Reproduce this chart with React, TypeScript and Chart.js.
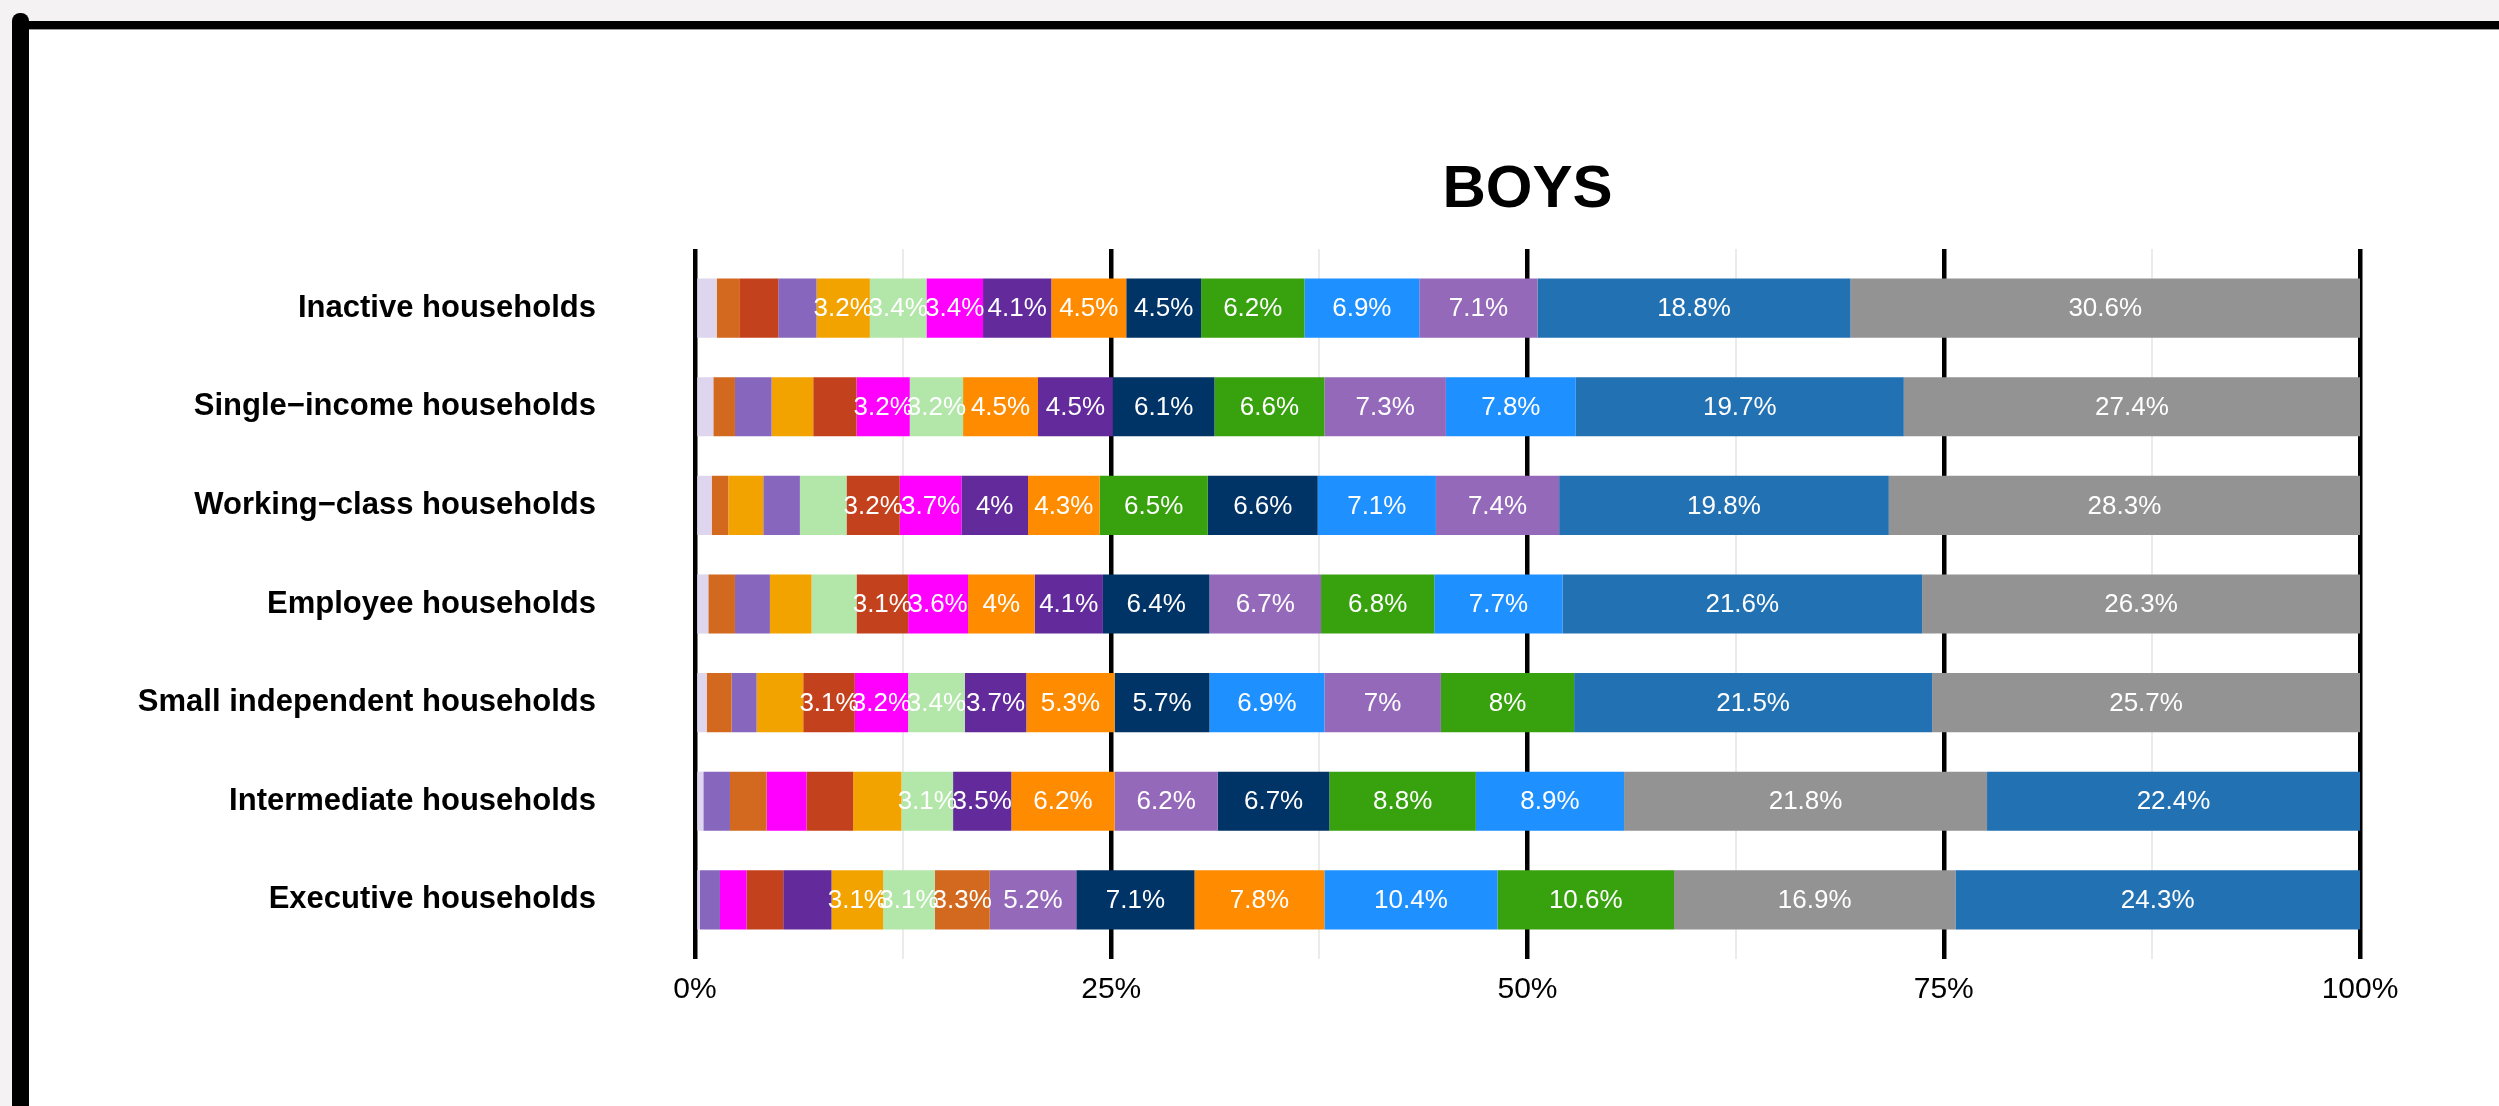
import React, { useEffect, useRef } from "react";
import { Chart, registerables } from "chart.js";

Chart.register(...registerables);

// Rows (top to bottom)
const households = [
  "Inactive households",
  "Single\u2212income households",
  "Working\u2212class households",
  "Employee households",
  "Small independent households",
  "Intermediate households",
  "Executive households",
];

// Colour of each group
const groupColors: Record<string, string> = {
  lav: "#DED5EE",
  choc: "#D2691E",
  red: "#C4411E",
  purpleA: "#8766BE",
  amber: "#F2A300",
  lgreen: "#B3E6A9",
  magenta: "#FF00FF",
  dpurple: "#622A9A",
  orange: "#FF8C00",
  navy: "#003366",
  green: "#38A10E",
  dblue: "#1E90FF",
  purpleB: "#9569BA",
  steel: "#2271B3",
  grey: "#939393",
};

// Per row: group order (ascending share, left to right) and shares (%)
const inactiveGroups = ["lav", "choc", "red", "purpleA", "amber", "lgreen", "magenta", "dpurple", "orange", "navy", "green", "dblue", "purpleB", "steel", "grey"];
const inactiveValues = [1.3, 1.4, 2.3, 2.3, 3.2, 3.4, 3.4, 4.1, 4.5, 4.5, 6.2, 6.9, 7.1, 18.8, 30.6];

const singleGroups = ["lav", "choc", "purpleA", "amber", "red", "magenta", "lgreen", "orange", "dpurple", "navy", "green", "purpleB", "dblue", "steel", "grey"];
const singleValues = [1.1, 1.3, 2.2, 2.5, 2.6, 3.2, 3.2, 4.5, 4.5, 6.1, 6.6, 7.3, 7.8, 19.7, 27.4];

const workingGroups = ["lav", "choc", "amber", "purpleA", "lgreen", "red", "magenta", "dpurple", "orange", "green", "navy", "dblue", "purpleB", "steel", "grey"];
const workingValues = [1.0, 1.0, 2.1, 2.2, 2.8, 3.2, 3.7, 4.0, 4.3, 6.5, 6.6, 7.1, 7.4, 19.8, 28.3];

const employeeGroups = ["lav", "choc", "purpleA", "amber", "lgreen", "red", "magenta", "orange", "dpurple", "navy", "purpleB", "green", "dblue", "steel", "grey"];
const employeeValues = [0.8, 1.6, 2.1, 2.5, 2.7, 3.1, 3.6, 4.0, 4.1, 6.4, 6.7, 6.8, 7.7, 21.6, 26.3];

const smallIndepGroups = ["lav", "choc", "purpleA", "amber", "red", "magenta", "lgreen", "dpurple", "orange", "navy", "dblue", "purpleB", "green", "steel", "grey"];
const smallIndepValues = [0.7, 1.5, 1.5, 2.8, 3.1, 3.2, 3.4, 3.7, 5.3, 5.7, 6.9, 7.0, 8.0, 21.5, 25.7];

const intermediateGroups = ["lav", "purpleA", "choc", "magenta", "red", "amber", "lgreen", "dpurple", "orange", "purpleB", "navy", "green", "dblue", "grey", "steel"];
const intermediateValues = [0.5, 1.6, 2.2, 2.4, 2.8, 2.9, 3.1, 3.5, 6.2, 6.2, 6.7, 8.8, 8.9, 21.8, 22.4];

const executiveGroups = ["lav", "purpleA", "magenta", "red", "dpurple", "amber", "lgreen", "choc", "purpleB", "navy", "orange", "dblue", "green", "grey", "steel"];
const executiveValues = [0.3, 1.2, 1.6, 2.2, 2.9, 3.1, 3.1, 3.3, 5.2, 7.1, 7.8, 10.4, 10.6, 16.9, 24.3];

const rowGroups = [inactiveGroups, singleGroups, workingGroups, employeeGroups, smallIndepGroups, intermediateGroups, executiveGroups];
const rowValues = [inactiveValues, singleValues, workingValues, employeeValues, smallIndepValues, intermediateValues, executiveValues];

const xTickLabels = ["0%", "25%", "50%", "75%", "100%"];
const chartTitle = "BOYS";

const FONT = "'Liberation Sans', Arial, Helvetica, sans-serif";

const fmt = (v: number) => `${Math.round(v * 10) / 10}%`;

const titlePlugin = {
  id: "centerTitle",
  afterDraw(chart: any) {
    const { ctx, chartArea } = chart;
    ctx.save();
    ctx.font = `bold 60px ${FONT}`;
    ctx.fillStyle = "#000";
    ctx.textAlign = "center";
    ctx.textBaseline = "middle";
    ctx.fillText(chartTitle, (chartArea.left + chartArea.right) / 2, 190);
    ctx.restore();
  },
};

const labelPlugin = {
  id: "segLabels",
  afterDatasetsDraw(chart: any) {
    const { ctx } = chart;
    ctx.save();
    ctx.font = `26px ${FONT}`;
    ctx.fillStyle = "#FFFFFF";
    ctx.textAlign = "center";
    ctx.textBaseline = "middle";
    chart.data.datasets.forEach((ds: any, di: number) => {
      const meta = chart.getDatasetMeta(di);
      meta.data.forEach((el: any, i: number) => {
        const v = ds.data[i].x;
        if (v < 3) return;
        const p = el.getProps(["x", "base", "y"], true);
        ctx.fillText(fmt(v), (p.x + p.base) / 2, p.y + 1);
      });
    });
    ctx.restore();
  },
};

export default function App() {
  const ref = useRef<HTMLCanvasElement | null>(null);

  useEffect(() => {
    if (!ref.current) return;
    const nSeg = rowValues[0].length;
    const datasets = Array.from({ length: nSeg }, (_, k) => ({
      label: `rank ${k + 1}`,
      data: households.map((_, i) => ({ x: rowValues[i][k], y: i })),
      backgroundColor: households.map((_, i) => groupColors[rowGroups[i][k]]),
      borderWidth: 0,
      barPercentage: 0.6,
      categoryPercentage: 1,
    }));

    const chart = new Chart(ref.current, {
      type: "bar",
      data: { datasets },
      options: {
        indexAxis: "y",
        animation: false,
        responsive: false,
        maintainAspectRatio: false,
        layout: { padding: { top: 249, left: 0, right: 139, bottom: 85 } },
        plugins: {
          legend: { display: false },
          title: { display: false },
          tooltip: { enabled: false },
        },
        scales: {
          x: {
            type: "linear",
            stacked: true,
            min: 0,
            max: 100,
            offset: false,
            border: { display: false },
            grid: {
              drawTicks: false,
              offset: false,
              color: (c: any) => (c.tick && c.tick.value % 25 === 0 ? "#000000" : "#EBEBEB"),
              lineWidth: (c: any) => (c.tick && c.tick.value % 25 === 0 ? 4.5 : 2),
            },
            afterBuildTicks: (axis: any) => {
              axis.ticks = [0, 12.5, 25, 37.5, 50, 62.5, 75, 87.5, 100].map((v) => ({ value: v }));
            },
            afterFit: (axis: any) => {
              axis.height = 62;
            },
            ticks: {
              autoSkip: false,
              maxRotation: 0,
              padding: 13,
              color: "#000000",
              font: { family: FONT, size: 30 },
              callback: (v: any) => (Number(v) % 25 === 0 ? xTickLabels[Number(v) / 25] : ""),
            },
          },
          y: {
            type: "linear",
            stacked: true,
            reverse: true,
            offset: false,
            bounds: "data",
            min: -0.6,
            max: households.length - 0.4,
            border: { display: false },
            grid: { display: false, drawTicks: false, offset: false },
            afterBuildTicks: (axis: any) => {
              axis.ticks = households.map((_, i) => ({ value: i }));
            },
            afterFit: (axis: any) => {
              axis.width = 695;
            },
            ticks: {
              autoSkip: false,
              padding: 99,
              color: "#000000",
              font: { family: FONT, size: 31, weight: "bold" },
              callback: (v: any) => households[Number(v)] ?? "",
            },
          },
        },
      } as any,
      plugins: [titlePlugin, labelPlugin],
    });
    return () => chart.destroy();
  }, []);

  return (
    <div style={{ position: "fixed", left: 0, top: 0, width: 2499, height: 1106, background: "#F4F2F2", overflow: "hidden" }}>
      <div style={{ position: "absolute", left: 29, top: 29, right: 0, bottom: 0, background: "#FFFFFF" }} />
      <div style={{ position: "absolute", left: 12, top: 29, right: 0, height: 1, background: "#9A9A9A" }} />
      <div style={{ position: "absolute", left: 12, top: 21, right: 0, height: 8, background: "#000000" }} />
      <div style={{ position: "absolute", left: 12, top: 13, width: 17, bottom: 0, background: "#000000", borderTopLeftRadius: 8, borderTopRightRadius: 8 }} />
      <canvas ref={ref} width={2499} height={1106} style={{ position: "absolute", left: 0, top: 0, width: 2499, height: 1106 }} />
    </div>
  );
}
